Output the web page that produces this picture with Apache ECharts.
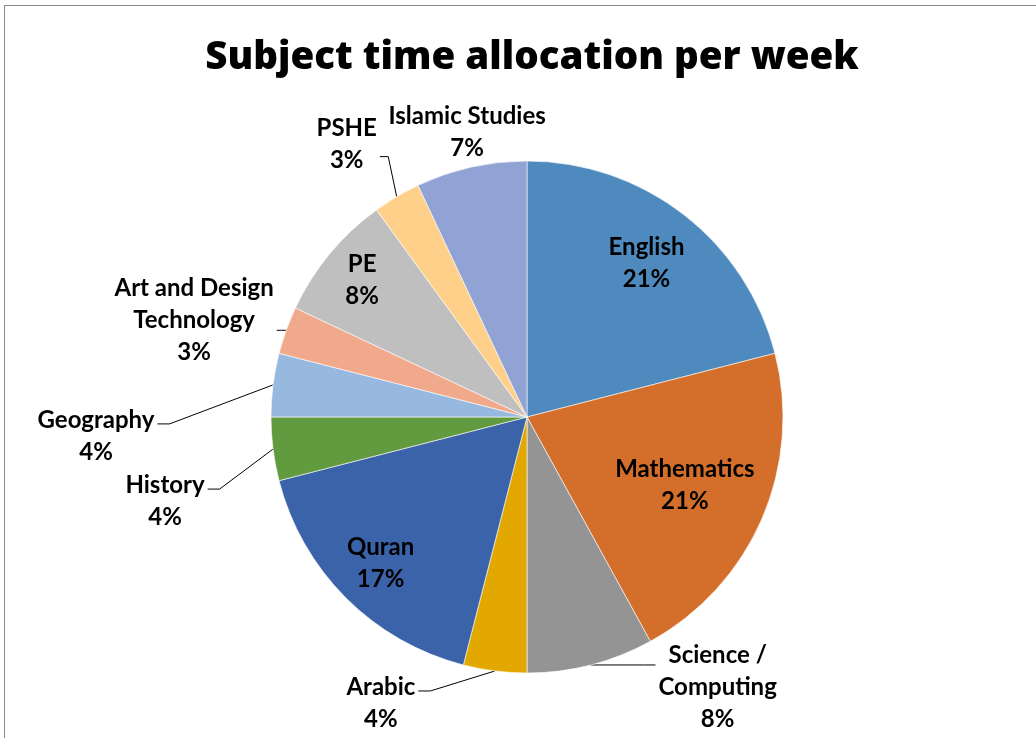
<!DOCTYPE html>
<html>
<head>
<meta charset="utf-8">
<script src="https://cdn.jsdelivr.net/npm/echarts@6/dist/echarts.min.js"></script>
<style>
  html, body { margin: 0; padding: 0; background: #ffffff; }
  #chart { position: absolute; left: 0; top: 0; width: 1036px; height: 738px; }
  #frame { position: absolute; left: 4px; top: 5px; right: 0; bottom: 0;
           border-left: 1.5px solid #8a8a8a; border-top: 1.5px solid #8a8a8a; pointer-events: none; }
</style>
</head>
<body>
<div id="chart"></div>
<div id="frame"></div>
<script>
// ---- data ----
const categories = ['English', 'Mathematics', 'Science / Computing', 'Arabic', 'Quran', 'History',
                    'Geography', 'Art and Design Technology', 'PE', 'PSHE', 'Islamic Studies'];
const shares = [21, 21, 8, 4, 17, 4, 4, 3, 8, 3, 7];
const labelNames = ['English', 'Mathematics', 'Science /\nComputing', 'Arabic', 'Quran', 'History',
                    'Geography', 'Art and Design\nTechnology', 'PE', 'PSHE', 'Islamic Studies'];
const titleText = 'Subject time allocation per week';

// ---- styles ----
const colors = ['#4E8ABE', '#D46E2B', '#949494', '#E3A800', '#3B63AA', '#629A3F',
                '#97B9E0', '#F0A98A', '#BFBFBF', '#FED08A', '#91A3D4'];
const CX = 527, CY = 417, R = 256;
const FONT = 'Lato, "Open Sans", sans-serif';
const TITLE_FONT = '"Open Sans", Lato, sans-serif';
// inside labels: distance of label centre from pie centre
const insideRadius = { 'English': 195, 'Mathematics': 172, 'Quran': 207, 'PE': 214 };
// outside labels: offset of label centre from the slice edge point
const outsideOffset = {
  'Science / Computing': [127, 22],
  'Arabic': [-114, 32],
  'History': [-108, 52],
  'Geography': [-177, 51],
  'Art and Design Technology': [-92, -10],
  'PSHE': [-50, -52],
  'Islamic Studies': [-4, -35]
};
const noLeader = { 'Islamic Studies': true };

const chart = echarts.init(document.getElementById('chart'), null, { renderer: 'canvas' });

const data = categories.map((c, i) => {
  const inside = insideRadius[c] != null;
  return {
    name: c,
    value: shares[i],
    itemStyle: { color: colors[i] },
    label: { position: inside ? 'inside' : 'outside' },
    labelLine: { show: !inside }
  };
});

function labelLayout(p) {
  const name = categories[p.dataIndex];
  const r = p.labelRect;
  const lcx = r.x + r.width / 2, lcy = r.y + r.height / 2;
  if (insideRadius[name] != null) {
    const dx = lcx - CX, dy = lcy - CY;
    const len = Math.sqrt(dx * dx + dy * dy) || 1;
    const d = insideRadius[name];
    return { x: CX + dx / len * d, y: CY + dy / len * d, align: 'center', verticalAlign: 'middle' };
  }
  const pts = p.labelLinePoints;
  if (!pts) return {};
  const edge = pts[0];
  const off = outsideOffset[name];
  const bx = edge[0] + off[0], by = edge[1] + off[1];
  const w = r.width, h = r.height;
  const leftSide = bx < edge[0];
  const ax = leftSide ? bx + w / 2 + 3 : bx - w / 2 - 3;
  const ay = Math.max(by - h / 2 + 16, Math.min(by + h / 2 - 16, edge[1]));
  const elb = Math.min(12, Math.abs(edge[0] - ax) * 0.5);
  const ex = leftSide ? ax + elb : ax - elb;
  let line = [[edge[0], edge[1]], [ex, ay], [ax, ay]];
  if (noLeader[name]) line = [[edge[0], edge[1]], [edge[0], edge[1]], [edge[0], edge[1]]];
  return { x: bx, y: by, align: 'center', verticalAlign: 'middle', labelLinePoints: line };
}

const option = {
  backgroundColor: '#ffffff',
  animation: false,
  title: {
    text: titleText,
    left: 527,
    textAlign: 'center',
    top: 34,
    textStyle: { fontFamily: TITLE_FONT, fontSize: 38.5, fontWeight: 800, color: '#000000' }
  },
  series: [{
    type: 'pie',
    center: [CX, CY],
    radius: R,
    startAngle: 90,
    clockwise: true,
    avoidLabelOverlap: false,
    silent: true,
    data: data,
    itemStyle: { borderColor: '#ffffff', borderWidth: 0.6 },
    label: {
      show: true,
      formatter: function (p) {
        const lines = labelNames[p.dataIndex].split('\n').concat([Math.round(p.percent) + '%']);
        return lines.map(l => '{c|' + l + '}').join('\n');
      },
      rich: {
        c: { align: 'center', fontFamily: FONT, fontSize: 24, fontWeight: 'bold',
             color: '#000000', lineHeight: 32 }
      }
    },
    labelLine: { show: true, length: 10, length2: 10, smooth: false,
                 lineStyle: { color: '#000000', width: 1 } },
    labelLayout: labelLayout,
    emphasis: { disabled: true }
  }]
};
chart.setOption(option);
</script>
</body>
</html>
